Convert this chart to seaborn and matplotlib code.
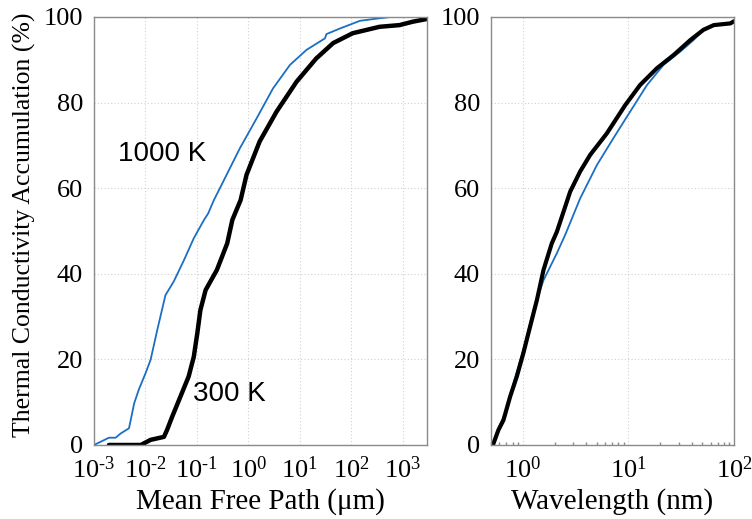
import matplotlib
matplotlib.use("Agg")
import matplotlib.pyplot as plt
import numpy as np
import pandas as pd
import seaborn as sns
from matplotlib.ticker import FuncFormatter

# left panel: accumulation (%) vs mean free path (um)
mfp_1000k = [0.001, 0.00195, 0.00263, 0.00331, 0.00479, 0.00603, 0.00741, 0.0100, 0.0126,
             0.0170, 0.0245, 0.0355, 0.0562, 0.0871, 0.138, 0.166, 0.214, 0.324, 0.684,
             1.45, 3.02, 6.46, 13.5, 30.9, 33.1, 60.3, 148, 355, 603]
acc_1000k = [0, 1.7, 1.7, 2.7, 3.9, 9.7, 12.9, 16.7, 19.9, 26.9, 35.0, 38.2, 43.2, 48.3,
             52.6, 54.1, 57.2, 61.5, 69.3, 76.3, 83.3, 88.8, 92.3, 95.0, 96.0, 97.3, 99.1,
             99.7, 100]
mfp_300k = [0.00195, 0.00813, 0.0126, 0.0229, 0.0263, 0.0331, 0.0479, 0.0692, 0.0871, 0.102,
            0.117, 0.148, 0.245, 0.389, 0.490, 0.708, 0.923, 1.66, 3.55, 8.71, 20.9, 44.7,
            107, 355, 871, 1585, 2884, 2951]
acc_300k = [0, 0, 1.2, 1.9, 3.5, 6.6, 11.3, 16.0, 20.6, 26.1, 31.5, 36.2, 40.9, 47.1, 52.6,
            57.2, 63.1, 70.9, 77.9, 84.9, 90.3, 93.9, 96.2, 97.7, 98.1, 98.9, 99.5, 99.6]

# right panel: accumulation (%) vs wavelength (nm)
wl_300k = [0.521, 0.587, 0.655, 0.758, 0.877, 1.01, 1.17, 1.36, 1.57, 1.88, 2.10, 2.81,
           3.49, 4.35, 6.25, 9.33, 12.9, 18.6, 26.8, 38.6, 51.4, 64.4, 92.6, 100]
wacc_300k = [0, 3.5, 5.8, 11.3, 16.0, 21.4, 27.6, 33.9, 40.9, 47.1, 49.8, 59.2, 63.9, 67.8,
             72.8, 79.4, 84.1, 88.0, 91.1, 94.6, 97.0, 98.1, 98.5, 99.0]
wl_1000k = [0.521, 0.587, 0.680, 0.815, 1.01, 1.26, 1.57, 2.10, 2.52, 3.49, 5.03, 7.22,
            10.4, 15.0, 21.5, 31.0, 41.4, 51.4, 64.4, 92.6, 100]
wacc_1000k = [0, 3.9, 7.4, 14.4, 22.2, 31.5, 38.5, 44.8, 49.1, 57.6, 65.4, 71.7, 77.9, 84.1,
              88.8, 91.9, 94.6, 97.0, 98.1, 98.5, 99.0]

mfp_ticks = [1e-3, 1e-2, 1e-1, 1e0, 1e1, 1e2, 1e3]
wl_ticks = [1e0, 1e1, 1e2]
acc_ticks = [0, 20, 40, 60, 80, 100]

BLUE = "#1a6fc4"
SERIF = ["Liberation Serif", "DejaVu Serif"]
SANS = ["Liberation Sans", "DejaVu Sans"]

sns.set_theme(style="white")
plt.rcParams["font.family"] = SERIF
plt.rcParams["mathtext.fontset"] = "custom"
plt.rcParams["mathtext.rm"] = "Liberation Serif"
plt.rcParams["mathtext.it"] = "Liberation Serif:italic"
plt.rcParams["text.color"] = "black"
plt.rcParams["axes.labelcolor"] = "black"


def decade_label(v, pos):
    exp = int(round(np.log10(v)))
    sign = "\u2010" if exp < 0 else ""
    return r"$\mathdefault{10^{%s%d}}$" % (sign, abs(exp))


def style_axes(ax, xticks):
    ax.set_xscale("log")
    ax.set_xticks(xticks)
    ax.xaxis.set_major_formatter(FuncFormatter(decade_label))
    ax.set_ylim(0, 100)
    ax.set_yticks(acc_ticks)
    for s in ax.spines.values():
        s.set_color("#8a8a8a")
        s.set_linewidth(1.0)
    ax.tick_params(axis="both", which="major", direction="in", length=4, color="#8a8a8a",
                   labelsize=19, labelcolor="black", pad=8)
    ax.tick_params(axis="x", which="minor", direction="in", length=2.5, color="#8a8a8a",
                   bottom=True)
    ax.tick_params(axis="y", which="minor", left=False)
    ax.grid(True, which="major", linestyle=(0, (1, 2)), color="#d0d0d0", linewidth=0.8)


fig = plt.figure(figsize=(7.52, 5.19), dpi=100)
ax1 = fig.add_axes([0.125, 0.1426, 0.443, 0.8247])
ax2 = fig.add_axes([0.653, 0.1426, 0.323, 0.8247])

left_1000 = pd.DataFrame({"mfp": mfp_1000k, "acc": acc_1000k})
left_300 = pd.DataFrame({"mfp": mfp_300k, "acc": acc_300k})
sns.lineplot(data=left_1000, x="mfp", y="acc", ax=ax1, color=BLUE, linewidth=1.3, sort=False)
sns.lineplot(data=left_300, x="mfp", y="acc", ax=ax1, color="black", linewidth=3.2, sort=False)
style_axes(ax1, mfp_ticks)
ax1.set_xlim(1e-3, 3e3)
ax1.set_xlabel("Mean Free Path (\u03bcm)", fontsize=21)
ax1.set_ylabel("Thermal Conductivity Accumulation (%)", fontsize=18.5)
ax1.yaxis.set_label_coords(-0.175, 0.515)
ax1.text(0.0029, 68, "1000 K", fontsize=20, family=SANS, va="center", ha="left")
ax1.text(0.085, 12, "300 K", fontsize=20, family=SANS, va="center", ha="left")

right_1000 = pd.DataFrame({"wl": wl_1000k, "acc": wacc_1000k})
right_300 = pd.DataFrame({"wl": wl_300k, "acc": wacc_300k})
sns.lineplot(data=right_1000, x="wl", y="acc", ax=ax2, color=BLUE, linewidth=1.3, sort=False)
sns.lineplot(data=right_300, x="wl", y="acc", ax=ax2, color="black", linewidth=3.0, sort=False)
style_axes(ax2, wl_ticks)
ax2.set_xlim(0.5, 100)
ax2.set_xlabel("Wavelength (nm)", fontsize=21)
ax2.set_ylabel("")

fig.savefig("out.png", dpi=100)
